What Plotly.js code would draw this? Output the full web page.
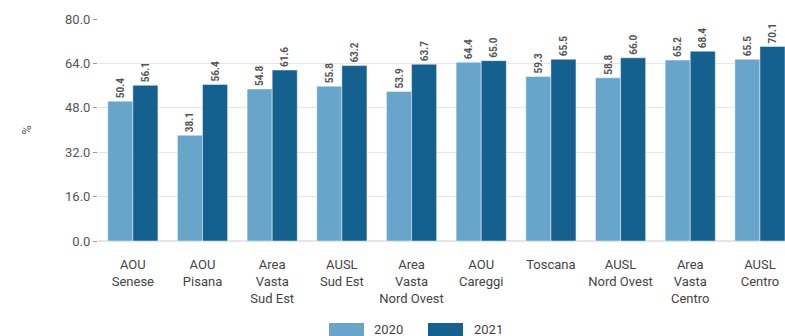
<!DOCTYPE html>
<html>
<head>
<meta charset="utf-8">
<script src="https://cdn.plot.ly/plotly-3.0.1.min.js"></script>
<style>html,body{margin:0;padding:0;overflow:hidden;background:#fff}#chart{width:785px;height:336px}</style>
</head>
<body>
<div id="chart"></div>
<script>
const categories = ["AOU<br>Senese", "AOU<br>Pisana", "Area<br>Vasta<br>Sud Est", "AUSL<br>Sud Est", "Area<br>Vasta<br>Nord Ovest", "AOU<br>Careggi", "Toscana", "AUSL<br>Nord Ovest", "Area<br>Vasta<br>Centro", "AUSL<br>Centro"];
const values2020 = [50.4, 38.1, 54.8, 55.8, 53.9, 64.4, 59.3, 58.8, 65.2, 65.5];
const values2021 = [56.1, 56.4, 61.6, 63.2, 63.7, 65.0, 65.5, 66.0, 68.4, 70.1];
const seriesNames = ["2020", "2021"];
const yTicks = [0, 16, 32, 48, 64, 80];

const colors = ["#68a5cb", "#146190"];
const W = 785, ML = 98, MR = 0, MT = 19, MB = 95, H = 336;
const plotW = W - ML - MR, plotH = H - MT - MB;
const px = v => (v - ML) / plotW;
const py = v => (H - MB - v) / plotH;

function mk(vals, i) {
  return {
    type: 'bar', x: categories, y: vals, name: seriesNames[i],
    marker: {color: colors[i], line: {color: 'rgba(255,255,255,0.45)', width: 1}},
    text: vals.map(v => v.toFixed(1)), textposition: 'outside', textangle: -90,
    textfont: {family: 'Roboto, sans-serif', size: 10, color: '#555', weight: 'bold'},
    cliponaxis: false, hoverinfo: 'x+y'
  };
}

const layout = {
  width: W, height: H,
  margin: {l: ML, r: MR, t: MT, b: MB},
  paper_bgcolor: '#fff', plot_bgcolor: '#fff',
  font: {family: 'Roboto, sans-serif', size: 13, color: '#555'},
  barmode: 'group', bargap: 0.28, bargroupgap: 0,
  showlegend: false,
  xaxis: {range: [-0.5, 9.36], tickfont: {size: 13, color: '#444'}, showgrid: false, ticks: '', ticklabelstandoff: 14, fixedrange: true},
  yaxis: {range: [0, 80], tickvals: yTicks, ticktext: yTicks.map(v => v.toFixed(1)),
    gridcolor: '#e6e6e6', gridwidth: 1, zeroline: true, zerolinecolor: '#e6e6e6', zerolinewidth: 2,
    ticks: 'outside', ticklen: 4, tickcolor: '#999', tickfont: {size: 13, color: '#555'},
    title: {text: '%', font: {size: 13, color: '#555'}, standoff: 30}},
  shapes: [
    {type: 'rect', xref: 'paper', yref: 'paper', x0: px(329), x1: px(364), y0: py(337), y1: py(323), fillcolor: colors[0], line: {width: 0}},
    {type: 'rect', xref: 'paper', yref: 'paper', x0: px(428), x1: px(463), y0: py(337), y1: py(323), fillcolor: colors[1], line: {width: 0}}
  ],
  annotations: [
    {xref: 'paper', yref: 'paper', x: px(372), y: py(329), text: seriesNames[0], showarrow: false, xanchor: 'left', yanchor: 'middle', font: {size: 13, color: '#444'}},
    {xref: 'paper', yref: 'paper', x: px(472), y: py(329), text: seriesNames[1], showarrow: false, xanchor: 'left', yanchor: 'middle', font: {size: 13, color: '#444'}}
  ]
};

Plotly.newPlot('chart', [mk(values2020, 0), mk(values2021, 1)], layout, {displayModeBar: false, staticPlot: true});
</script>
</body>
</html>
